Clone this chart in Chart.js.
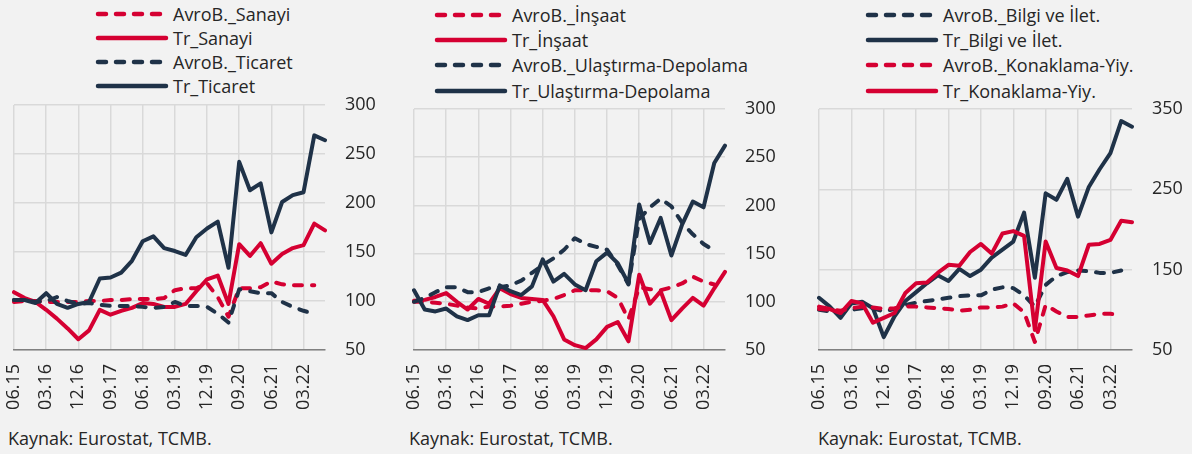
<!DOCTYPE html>
<html><head><meta charset="utf-8">
<script src="https://cdn.jsdelivr.net/npm/chart.js@4.4.0/dist/chart.umd.min.js"></script>
<style>
html,body{margin:0;padding:0;background:#F2F2F2;width:1192px;height:454px;overflow:hidden;font-family:"Open Sans",sans-serif;}
.cv{position:absolute;}
.leg{position:absolute;color:#262626;font-size:18px;}
.row{height:24px;display:flex;align-items:center;white-space:nowrap;}
.leg.tall .row{height:25.3px;}
.row svg{width:76px;height:24px;flex:none;}
.src{position:absolute;top:426px;font-size:18px;color:#262626;white-space:nowrap;}
</style></head>
<body>
<div id="leg1" class="leg" style="left:95px;top:2px"></div>
<div id="leg2" class="leg tall" style="left:434px;top:2px"></div>
<div id="leg3" class="leg tall" style="left:865px;top:2px"></div>
<canvas id="c1" class="cv" style="left:0;top:70px" width="397" height="355"></canvas>
<canvas id="c2" class="cv" style="left:400px;top:74px" width="397" height="351"></canvas>
<canvas id="c3" class="cv" style="left:800px;top:74px" width="392" height="351"></canvas>
<div class="src" style="left:8px">Kaynak: Eurostat, TCMB.</div>
<div class="src" style="left:409px">Kaynak: Eurostat, TCMB.</div>
<div class="src" style="left:818px">Kaynak: Eurostat, TCMB.</div>
<script>
const quarters = ['06.15','09.15','12.15','03.16','06.16','09.16','12.16','03.17','06.17','09.17','12.17','03.18','06.18','09.18','12.18','03.19','06.19','09.19','12.19','03.20','06.20','09.20','12.20','03.21','06.21','09.21','12.21','03.22','06.22','09.22'];

// Panel 1
const avroSanayi  = [99,100,100,99,99,99,99,100,100,101,101,102,102,102,103,111,113,113,118,104,84,113,113,114,120,117,116,116,116,null];
const trSanayi    = [109,103,99,91,82,72,61,70,91,86,90,93,98,97,94,94,97,110,122,126,97,158,146,159,138,148,154,157,179,172];
const avroTicaret = [101,101,99,100,104,100,97,98,96,95,95,95,94,93,94,99,95,95,94,87,78,112,110,108,108,99,94,90,87,null];
const trTicaret   = [101,101,98,108,97,93,97,99,123,124,129,141,161,166,154,151,147,165,174,181,134,242,213,220,170,201,208,211,269,264];

// Panel 2
const avroInsaat = [100,100,99,98,96,94,93,95,95,96,98,100,101,103,107,112,112,112,111,104,82,115,113,112,115,119,126,121,118,null];
const trInsaat   = [101,102,105,109,100,92,103,98,114,108,104,103,102,85,61,55,52,61,74,79,59,128,98,111,81,93,104,96,114,131];
const avroUlas   = [100,104,110,115,115,110,110,114,115,117,122,130,138,145,154,166,160,157,154,138,118,186,198,207,199,182,170,160,153,null];
const trUlas     = [112,92,90,93,85,81,86,86,117,111,107,116,144,121,129,118,112,142,151,140,119,201,161,187,148,180,204,198,244,262];

// Panel 3
const avroBilgi = [100,98,97,100,102,102,98,101,106,109,111,113,115,117,118,118,125,128,127,118,104,131,142,147,149,148,146,146,149,null];
const trBilgi   = [115,104,90,108,110,102,66,92,111,122,133,143,136,151,142,150,165,175,185,221,140,245,237,263,216,253,275,295,335,328];
const avroKonak = [101,100,99,102,104,103,101,102,104,104,103,102,101,99,100,103,103,104,108,97,60,106,98,91,91,93,95,95,94,null];
const trKonak   = [104,101,96,111,108,84,90,96,121,133,134,146,156,155,172,182,170,195,198,192,75,185,152,149,142,181,182,187,211,209];

const names1 = ['AvroB._Sanayi','Tr_Sanayi','AvroB._Ticaret','Tr_Ticaret'];
const names2 = ['AvroB._İnşaat','Tr_İnşaat','AvroB._Ulaştırma-Depolama','Tr_Ulaştırma-Depolama'];
const names3 = ['AvroB._Bilgi ve İlet.','Tr_Bilgi ve İlet.','AvroB._Konaklama-Yiy.','Tr_Konaklama-Yiy.'];
const yTicks1 = {min:50,max:300,step:50};
const yTicks3 = {min:50,max:350,step:100};

const RED = '#D50032', NAVY = '#1F3248';
const DASH = [8,10];

function legend(id, names, colors, dashed){
  const el = document.getElementById(id);
  names.forEach((n,i)=>{
    const r = document.createElement('div'); r.className='row';
    r.innerHTML = '<svg viewBox="0 0 76 24"><line x1="3" y1="12" x2="71" y2="12" stroke="'+colors[i]+'" stroke-width="4.5" stroke-linecap="round"'+(dashed[i]?' stroke-dasharray="8 10"':'')+'/></svg><span style="margin-left:2px">'+n+'</span>';
    el.appendChild(r);
  });
}

function panel(id, names, series, colors, dashed, yt, pad){
  const datasets = series.map((d,i)=>({
    label:names[i], data:d, borderColor:colors[i], backgroundColor:colors[i],
    borderWidth:4, borderDash: dashed[i]?DASH:[], borderCapStyle:'round', borderJoinStyle:'round',
    pointRadius:0, tension:0, order: series.length-1-i, spanGaps:false
  }));
  new Chart(document.getElementById(id), {
    type:'line',
    data:{labels:quarters, datasets},
    options:{
      responsive:false, animation:false,
      layout:{padding:pad},
      plugins:{legend:{display:false}, tooltip:{enabled:false}},
      scales:{
        x:{
          offset:false,
          grid:{drawTicks:false, lineWidth:1.5, color:(c)=> (c.index%3===0 ? '#D9D9D9' : 'rgba(0,0,0,0)')},
          border:{display:true, color:'#808080', width:1.5},
          ticks:{autoSkip:false, maxRotation:90, minRotation:90, padding:14, color:'#262626',
            font:{family:'"Open Sans"', size:18},
            callback:function(v,i){ return i%3===0 ? this.getLabelForValue(v) : ''; }},
          afterFit:(s)=>{ s.height = 65; }
        },
        y:{
          position:'right', min:yt.min, max:yt.max,
          grid:{drawTicks:false, color:'#D9D9D9', lineWidth:1.5},
          border:{display:false},
          ticks:{stepSize:yt.step, padding:20, color:'#262626', font:{family:'"Open Sans"', size:18}},
          afterFit:(s)=>{ s.width = 60; }
        }
      }
    }
  });
}

const cols = [RED,RED,NAVY,NAVY], dsh=[true,false,true,false];
const cols3 = [NAVY,NAVY,RED,RED];
legend('leg1', names1, cols, dsh);
legend('leg2', names2, cols, dsh);
legend('leg3', names3, cols3, dsh);
panel('c1', names1, [avroSanayi,trSanayi,avroTicaret,trTicaret], cols, dsh, yTicks1, {left:14, right:12, top:35, bottom:10});
panel('c2', names2, [avroInsaat,trInsaat,avroUlas,trUlas], cols, dsh, yTicks1, {left:14, right:12, top:35, bottom:10});
panel('c3', names3, [avroBilgi,trBilgi,avroKonak,trKonak], cols3, dsh, yTicks3, {left:19, right:0, top:35, bottom:10});
</script>
</body></html>
